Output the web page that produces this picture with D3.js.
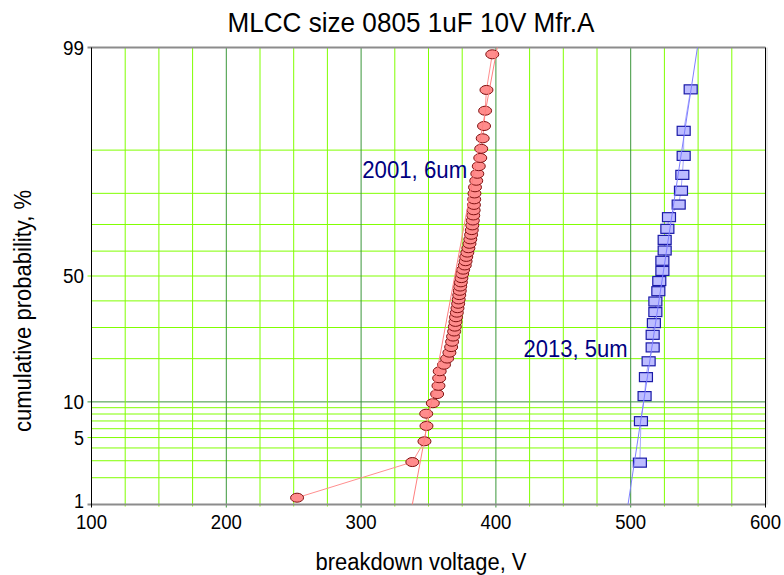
<!DOCTYPE html>
<html>
<head>
<meta charset="utf-8">
<script src="https://cdn.jsdelivr.net/npm/d3@7"></script>
<style>
  body { margin: 0; background: #fff; }
  text { font-family: "Liberation Sans", Arial, sans-serif; }
</style>
</head>
<body>
<svg id="chart" width="784" height="575"></svg>
<script>
// ---- chart text ----
const titleText = "MLCC size 0805 1uF 10V Mfr.A";
const xLabelText = "breakdown voltage, V";
const yLabelText = "cumulative probability, %";
const seriesNames = ["2001, 6um", "2013, 5um"];

// ---- axes ----
const xTicks = [100, 200, 300, 400, 500, 600];
const xMinorGrid = [125, 150, 175, 225, 250, 275, 325, 350, 375, 425, 450, 475, 525, 550, 575];
const yTicks = [1, 5, 10, 50, 99];
const yGrid = [2, 3, 4, 5, 6, 7, 8, 9, 10, 20, 30, 40, 50, 60, 70, 80, 90];

// ---- 2001, 6um: breakdown voltage (V) and cumulative probability (%) ----
const volts2001 = [252.5, 338.0, 347.0, 348.5, 348.3, 353.2, 356.4, 357.4, 357.9, 358.3,
  361.5, 363.8, 365.5, 366.8, 367.5, 368.2, 369.0, 369.5, 370.0, 370.4,
  371.0, 371.5, 372.0, 372.4, 372.8, 373.2, 373.5, 374.0, 374.4, 375.0,
  375.7, 376.9, 377.5, 378.0, 378.8, 379.6, 380.4, 381.0, 381.6, 382.1,
  382.5, 382.9, 383.2, 383.5, 383.7, 383.9, 384.1, 384.5, 385.4, 386.2,
  387.3, 388.4, 389.1, 390.2, 391.2, 392.0, 393.0, 397.3];
const prob2001 = [1.20, 2.91, 4.62, 6.34, 8.05, 9.76, 11.47, 13.18, 14.90, 16.61,
  18.32, 20.03, 21.75, 23.46, 25.17, 26.88, 28.60, 30.31, 32.02, 33.73,
  35.45, 37.16, 38.87, 40.58, 42.29, 44.01, 45.72, 47.43, 49.14, 50.86,
  52.57, 54.28, 55.99, 57.71, 59.42, 61.13, 62.84, 64.55, 66.27, 67.98,
  69.69, 71.40, 73.12, 74.83, 76.54, 78.25, 79.97, 81.68, 83.39, 85.10,
  86.82, 88.53, 90.24, 91.95, 93.66, 95.38, 97.09, 98.80];

// ---- 2013, 5um ----
const volts2013 = [506.8, 507.6, 510.3, 511.3, 513.3, 516.3, 516.3, 517.2, 518.3, 518.3,
  520.5, 521.2, 523.5, 523.5, 525.2, 525.2, 527.2, 528.4, 535.6, 537.3,
  538.3, 539.3, 539.3, 544.5];
const prob2013 = [2.87, 6.97, 11.07, 15.16, 19.26, 23.36, 27.46, 31.56, 35.66, 39.75,
  43.85, 47.95, 52.05, 56.15, 60.25, 64.34, 68.44, 72.54, 76.64, 80.74,
  84.84, 88.93, 93.03, 97.13];

// ---- fitted distribution lines: [voltage, probability %] ----
const fit2001 = [[338.0, 1], [401.0, 99]];
const fit2013 = [[498.0, 1], [549.5, 99]];

// inverse of the standard normal CDF (Acklam's rational approximation)
function probit(p) {
  const a = [-3.969683028665376e+01, 2.209460984245205e+02, -2.759285104469687e+02,
             1.383577518672690e+02, -3.066479806614716e+01, 2.506628277459239e+00];
  const b = [-5.447609879822406e+01, 1.615858368580409e+02, -1.556989798598866e+02,
             6.680131188771972e+01, -1.328068155288572e+01];
  const c = [-7.784894002430293e-03, -3.223964580411365e-01, -2.400758277161838e+00,
             -2.549732539343734e+00, 4.374664141464968e+00, 2.938163982698783e+00];
  const d = [7.784695709041462e-03, 3.224671290700398e-01, 2.445134137142996e+00,
             3.754408661907416e+00];
  const pl = 0.02425;
  let q, r;
  if (p < pl) {
    q = Math.sqrt(-2 * Math.log(p));
    return (((((c[0]*q+c[1])*q+c[2])*q+c[3])*q+c[4])*q+c[5]) / ((((d[0]*q+d[1])*q+d[2])*q+d[3])*q+1);
  } else if (p <= 1 - pl) {
    q = p - 0.5; r = q * q;
    return (((((a[0]*r+a[1])*r+a[2])*r+a[3])*r+a[4])*r+a[5])*q / (((((b[0]*r+b[1])*r+b[2])*r+b[3])*r+b[4])*r+1);
  } else {
    q = Math.sqrt(-2 * Math.log(1 - p));
    return -(((((c[0]*q+c[1])*q+c[2])*q+c[3])*q+c[4])*q+c[5]) / ((((d[0]*q+d[1])*q+d[2])*q+d[3])*q+1);
  }
}

const svg = d3.select("#chart");
const plot = { left: 91.5, right: 765.5, top: 47.5, bottom: 504.5 };

const x = d3.scaleLinear().domain([100, 600]).range([plot.left, plot.right]);
// normal probability axis: linear in the standard normal quantile
const zScale = d3.scaleLinear().domain([probit(0.01), probit(0.99)]).range([plot.bottom, plot.top]);
const y = pct => zScale(probit(pct / 100));

const LIME = "#80ff00";
const DARK = "#3a963a";

// ---- grid ----
const grid = svg.append("g");
grid.selectAll("line.hgrid").data(yGrid).join("line")
  .attr("x1", d => (yTicks.includes(d) ? plot.left - 4 : plot.left))
  .attr("x2", plot.right)
  .attr("y1", d => y(d)).attr("y2", d => y(d))
  .attr("stroke", d => (d === 10 ? DARK : LIME)).attr("stroke-width", 1);

grid.selectAll("line.vminor").data(xMinorGrid).join("line")
  .attr("x1", d => x(d)).attr("x2", d => x(d))
  .attr("y1", plot.top).attr("y2", plot.bottom + 2)
  .attr("stroke", LIME).attr("stroke-width", 1);

grid.selectAll("line.vmajor").data(xTicks.slice(1, -1)).join("line")
  .attr("x1", d => x(d)).attr("x2", d => x(d))
  .attr("y1", plot.top).attr("y2", plot.bottom + 3)
  .attr("stroke", DARK).attr("stroke-width", 1);

// ---- frame ----
svg.append("line").attr("x1", plot.left - 4).attr("x2", plot.right)
  .attr("y1", y(99)).attr("y2", y(99)).attr("stroke", "#8c8c8c").attr("stroke-width", 2);
svg.append("line").attr("x1", plot.left - 4).attr("x2", plot.right)
  .attr("y1", y(1)).attr("y2", y(1)).attr("stroke", "#8c8c8c").attr("stroke-width", 2);
svg.append("line").attr("x1", plot.left).attr("x2", plot.left)
  .attr("y1", plot.top).attr("y2", plot.bottom + 3).attr("stroke", "#000");
svg.append("line").attr("x1", plot.right).attr("x2", plot.right)
  .attr("y1", plot.top).attr("y2", plot.bottom + 3).attr("stroke", "#000");
svg.append("line").attr("x1", plot.right + 1.5).attr("x2", plot.right + 1.5)
  .attr("y1", plot.top).attr("y2", plot.bottom).attr("stroke", "#d0d0d0");

// ---- tick labels ----
svg.append("g").selectAll("text").data(xTicks).join("text")
  .attr("x", d => x(d)).attr("y", 529)
  .attr("text-anchor", "middle").attr("font-size", 20).attr("fill", "#000")
  .attr("textLength", 31).attr("lengthAdjust", "spacingAndGlyphs")
  .text(d => d);

svg.append("g").selectAll("text").data(yTicks).join("text")
  .attr("x", 84).attr("y", d => y(d) - (d === 1 ? 4 : 0))
  .attr("text-anchor", "end").attr("dominant-baseline", "central")
  .attr("font-size", 20).attr("fill", "#000")
  .attr("textLength", d => (String(d).length > 1 ? 21 : 10)).attr("lengthAdjust", "spacingAndGlyphs")
  .text(d => d);

// ---- data ----
const pts2001 = volts2001.map((v, i) => ({ v, p: prob2001[i] }));
const pts2013 = volts2013.map((v, i) => ({ v, p: prob2013[i] }));
const path = d3.line().x(d => x(d.v)).y(d => y(d.p));
const fitPath = d3.line().x(d => x(d[0])).y(d => y(d[1]));

// connecting lines
svg.append("path").datum(pts2001).attr("d", path)
  .attr("fill", "none").attr("stroke", "#ff8f8f").attr("stroke-width", 1);
svg.append("path").datum(pts2013).attr("d", path)
  .attr("fill", "none").attr("stroke", "#a8a8ff").attr("stroke-width", 1);

// markers
svg.append("g").selectAll("ellipse").data(pts2001).join("ellipse")
  .attr("cx", d => x(d.v)).attr("cy", d => y(d.p))
  .attr("rx", 6.5).attr("ry", 4.5)
  .attr("fill", "#ff8c8c").attr("stroke", "#801010").attr("stroke-width", 1);

svg.append("g").selectAll("rect").data(pts2013).join("rect")
  .attr("x", d => x(d.v) - 6.5).attr("y", d => y(d.p) - 4.5)
  .attr("width", 13).attr("height", 9)
  .attr("fill", "#bcbcff").attr("stroke", "#1a1aa8").attr("stroke-width", 1.2);

// fitted lines
svg.append("path").datum(fit2001).attr("d", fitPath)
  .attr("fill", "none").attr("stroke", "#ff7f7f").attr("stroke-width", 1);
svg.append("path").datum(fit2013).attr("d", fitPath)
  .attr("fill", "none").attr("stroke", "#7f7fff").attr("stroke-width", 1);

// ---- series labels ----
svg.append("text").attr("x", x(300.8)).attr("y", 178)
  .attr("font-size", 24).attr("fill", "#000080")
  .attr("textLength", 105).attr("lengthAdjust", "spacingAndGlyphs")
  .text(seriesNames[0]);
svg.append("text").attr("x", x(420.5)).attr("y", 357)
  .attr("font-size", 24).attr("fill", "#000080")
  .attr("textLength", 104).attr("lengthAdjust", "spacingAndGlyphs")
  .text(seriesNames[1]);

// ---- titles ----
svg.append("text").attr("x", 411).attr("y", 32)
  .attr("text-anchor", "middle").attr("font-size", 28).attr("fill", "#000")
  .attr("textLength", 367).attr("lengthAdjust", "spacingAndGlyphs")
  .text(titleText);
svg.append("text").attr("x", 421).attr("y", 570)
  .attr("text-anchor", "middle").attr("font-size", 23).attr("fill", "#000")
  .attr("textLength", 211).attr("lengthAdjust", "spacingAndGlyphs")
  .text(xLabelText);
svg.append("text").attr("transform", "translate(31,311) rotate(-90)")
  .attr("text-anchor", "middle").attr("font-size", 23).attr("fill", "#000")
  .attr("textLength", 242).attr("lengthAdjust", "spacingAndGlyphs")
  .text(yLabelText);
</script>
</body>
</html>
